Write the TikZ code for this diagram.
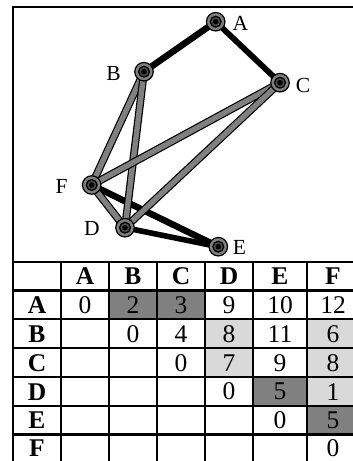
\documentclass[tikz,border=0pt]{standalone}
\usepackage{fontspec}
\setmainfont{Liberation Serif}
\usetikzlibrary{backgrounds}
\definecolor{edgegrey}{gray}{0.5}
\definecolor{celldark}{gray}{0.5}
\definecolor{celllight}{gray}{0.85}
\begin{document}
\begin{tikzpicture}[x=1pt,y=-1pt,
  vtx/.style={circle, draw=black, line width=1.2pt, fill=edgegrey,
    minimum size=18.5pt, inner sep=0pt,
    path picture={
      \draw[line width=1.3pt, fill=black!70]
        (path picture bounding box.center) circle (5.4pt);
      \fill[black] (path picture bounding box.center) circle (2.8pt);}},
  lbl/.style={inner sep=0pt, font=\fontsize{21.5}{21.5}\selectfont},
  heavy/.style={line width=6.5pt, black},
  greyedge/.style={line width=1.2pt, draw=black, double=edgegrey,
    double distance=5.4pt},
  grid/.style={line width=2.2pt, black},
  cell/.style={inner sep=0pt, font=\fontsize{25.5}{25.5}\selectfont},
  head/.style={inner sep=0pt, font=\fontsize{25.5}{25.5}\selectfont\bfseries},
  dark/.style={fill=celldark},
  light/.style={fill=celllight}]
\useasboundingbox (0,0) rectangle (353,461);
\clip (0,0) rectangle (353,461);

% ---------- graph ----------
\node[vtx] (A) at (215.7,21.7) {};
\node[vtx] (B) at (144,71.7) {};
\node[vtx] (C) at (280,82.7) {};
\node[vtx] (F) at (91.7,185) {};
\node[vtx] (D) at (125,227.7) {};
\node[vtx] (E) at (218.3,246.7) {};

\node[lbl] (lA) at (240.5,23) {A};
\node[lbl] (lB) at (113.5,73.5) {B};
\node[lbl] (lC) at (303,85.5) {C};
\node[lbl] (lF) at (61.5,186) {F};
\node[lbl] (lD) at (92,228.5) {D};
\node[lbl] (lE) at (239.5,247) {E};

\begin{scope}[on background layer]
  \draw[heavy] (A.center) -- (B.center);
  \draw[heavy, line width=5.8pt] (A.center) -- (C.center);
  \draw[heavy] (F.center) -- (E.center);
  \draw[heavy, line width=5.6pt] (D.center) -- (E.center);
  \draw[greyedge] (B.center) -- (F.center);
  \draw[greyedge] (B.center) -- (D.center);
  \draw[greyedge] (C.center) -- (F.center);
  \draw[greyedge] (C.center) -- (D.center);
  \draw[greyedge] (F.center) -- (D.center);
\end{scope}

% ---------- table of distances ----------
% columns: 13 61 109 157 205 253 307 361
% rows:    262 290.5 319.2 348 376.8 405.6 434.4 463.2
\fill[dark]  (109,290.5) rectangle (205,319.2);
\fill[dark]  (253,376.8) rectangle (307,405.6);
\fill[dark]  (307,405.6) rectangle (361,434.4);
\fill[light] (205,319.2) rectangle (253,376.8);
\fill[light] (307,319.2) rectangle (361,405.6);

\foreach \y in {262,290.5,319.2,348,376.8,405.6,434.4}
  \draw[grid] (13,\y) -- (361,\y);
\foreach \x in {61,109,157,205,253,307}
  \draw[grid] (\x,262) -- (\x,463.2);
% outer frame
\draw[grid] (13,463.2) -- (13,7.3) -- (361,7.3);

% column headers
\foreach \t/\x in {A/85,B/133,C/181,D/229,E/280,F/333}
  \node[head] (col\t) at (\x,276.5) {\t};
% row headers
\foreach \t/\y in {A/305.5,B/334.2,C/363,D/391.8,E/420.6,F/448.6}
  \node[head] (row\t) at (37,\y) {\t};

% entries
\foreach \v/\x/\n in {0/85/AA,2/133/AB,3/181/AC,9/229/AD,10/280/AE,12/333/AF}
  \node[cell] (c\n) at (\x,305.2) {\v};
\foreach \v/\x/\n in {0/133/BB,4/181/BC,8/229/BD,11/280/BE,6/333/BF}
  \node[cell] (c\n) at (\x,334) {\v};
\foreach \v/\x/\n in {0/181/CC,7/229/CD,9/280/CE,8/333/CF}
  \node[cell] (c\n) at (\x,362.8) {\v};
\foreach \v/\x/\n in {0/229/DD,5/280/DE,1/333/DF}
  \node[cell] (c\n) at (\x,391.6) {\v};
\foreach \v/\x/\n in {0/280/EE,5/333/EF}
  \node[cell] (c\n) at (\x,420.4) {\v};
\node[cell] (cFF) at (333,448.4) {0};
\end{tikzpicture}
\end{document}
